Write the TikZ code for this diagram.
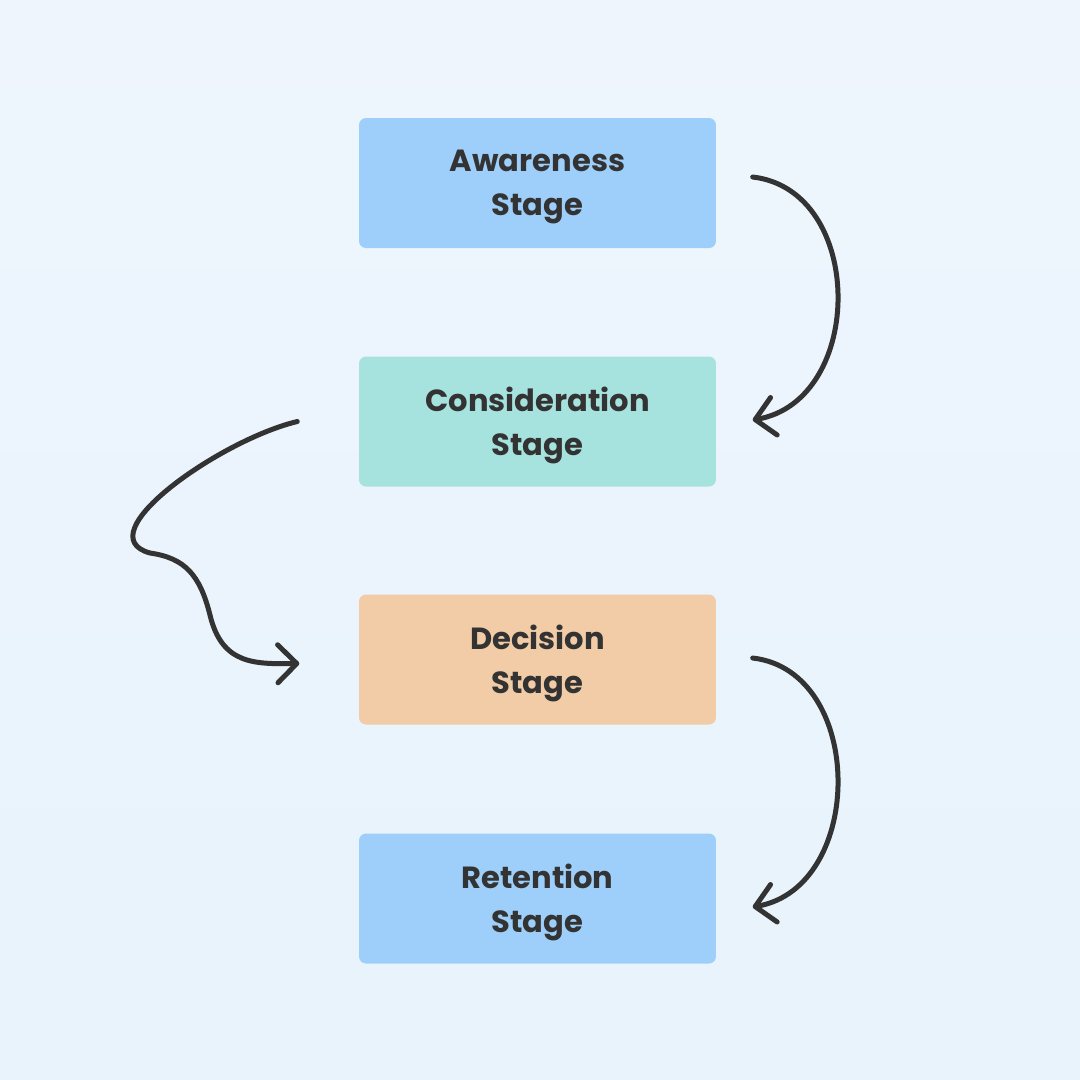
\documentclass[tikz,border=0pt]{standalone}
\usepackage{fontspec}
\setmainfont{Poppins}
\usetikzlibrary{arrows.meta}
\definecolor{bgtop}{HTML}{EEF5FD}
\definecolor{bgbot}{HTML}{E8F3FC}
\definecolor{boxblue}{HTML}{9DCFFA}
\definecolor{boxteal}{HTML}{A6E3DF}
\definecolor{boxorange}{HTML}{F1CCA6}
\definecolor{ink}{HTML}{333333}
\tikzset{
  stagebox/.style={rectangle, rounded corners=0.7mm, minimum width=35.7mm, minimum height=13mm,
    inner sep=0pt, align=center, text=ink, text depth=0pt, font=\fontsize{8.7}{12.5}\selectfont\bfseries},
  flow/.style={draw=ink, line width=0.5mm, line cap=round, line join=round,
    -{Straight Barb[length=1.9mm,width=3.8mm,line cap=round,line join=round]}}
}
\begin{document}
\begin{tikzpicture}[x=0.1mm,y=-0.1mm]
\shade[top color=bgtop, bottom color=bgbot] (0,0) rectangle (1080,1080);
\useasboundingbox (0,0) rectangle (1080,1080);
\node[stagebox, fill=boxblue] (a) at (537.5,183) {Awareness\\Stage};
\node[stagebox, fill=boxteal] (c) at (537.5,421.5) {Consideration\\Stage};
\node[stagebox, fill=boxorange] (d) at (537.5,659.5) {Decision\\Stage};
\node[stagebox, fill=boxblue] (r) at (537.5,898.5) {Retention\\Stage};
\coordinate (a1) at ([xshift=3.6mm,yshift=0.6mm]a.east);
\coordinate (c1) at ([xshift=3.6mm,yshift=0.15mm]c.east);
\coordinate (c2) at ([xshift=-6.1mm]c.west);
\coordinate (d2) at ([xshift=-5.9mm,yshift=-0.4mm]d.west);
\coordinate (d1) at ([xshift=3.6mm,yshift=0.15mm]d.east);
\coordinate (r1) at ([xshift=3.6mm,yshift=-0.85mm]r.east);
\draw[flow] (a1) .. controls ++(113,13) and ++(113,-20) .. (c1);
\draw[flow] (d1) .. controls ++(113,13) and ++(113,-20) .. (r1);
\draw[flow] (c2) .. controls (220,440) and (85,535) .. (150,553)
  .. controls (185,558) and (200,575) .. (210,615)
  .. controls (222,665) and (255,664) .. (d2);
\end{tikzpicture}
\end{document}
